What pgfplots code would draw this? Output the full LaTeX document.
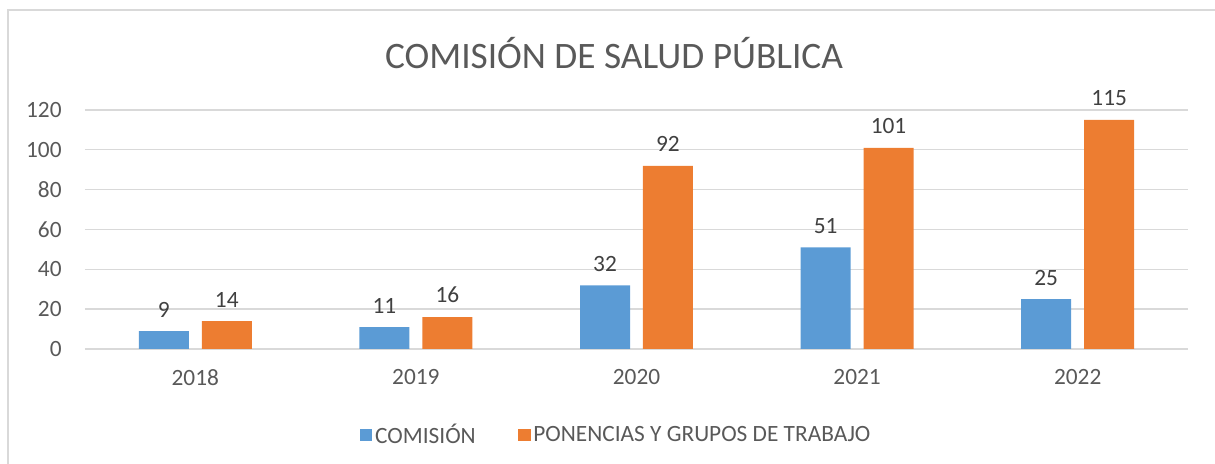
\documentclass[border=0pt]{standalone}
\usepackage{pgfplots}
\pgfplotsset{compat=1.18}
\usepackage{fontspec}
\setmainfont{Carlito}
\definecolor{cblue}{HTML}{5B9BD5}
\definecolor{corange}{HTML}{ED7D31}
\definecolor{cgrid}{HTML}{D9D9D9}
\definecolor{ctext}{HTML}{595959}
\definecolor{clab}{HTML}{404040}
\begin{document}
\begin{tikzpicture}
\useasboundingbox (0pt,0pt) rectangle (911.25pt,348pt);
\draw[cgrid, line width=1.5pt] (6pt,0pt) -- (6pt,340.5pt) -- (911.25pt,340.5pt);
\node[font=\fontsize{28}{34}\selectfont, text=ctext] at (460.5pt,308.5pt) {COMISIÓN DE SALUD PÚBLICA};
\begin{axis}[
  at={(63.75pt,86.25pt)}, anchor=south west,
  scale only axis, width=827.25pt, height=179.25pt,
  xmin=-0.5, xmax=4.5, ymin=0, ymax=120,
  ybar, bar width=37.5pt,
  xtick={0,1,2,3,4}, xticklabels={2018,2019,2020,2021,2022},
  ytick={0,20,40,60,80,100,120},
  ymajorgrids, grid style={cgrid, line width=1pt},
  axis line style={draw=none}, major tick length=0pt,
  tick label style={font=\fontsize{17.5}{21}\selectfont, text=ctext},
  /pgf/number format/assume math mode=true,
  yticklabel style={xshift=-14pt},
  xticklabel style={yshift=-12pt},
  nodes near coords,
  every node near coord/.append style={font=\fontsize{17.5}{21}\selectfont, text=clab, yshift=7pt},
  legend style={at={(0.482,-0.36)}, anchor=center, draw=none, fill=none,
    legend columns=2, font=\fontsize{17.5}{21}\selectfont, text=ctext,
    /tikz/every even column/.append style={column sep=30pt}},
  legend image code/.code={\fill[#1,draw=none] (-3pt,-4.3pt) rectangle (6.2pt,4.9pt);},
]
\addplot[fill=cblue, draw=none, bar shift=-23.6pt] coordinates {(0,9) (1,11) (2,32) (3,51) (4,25)};
\addplot[fill=corange, draw=none, bar shift=23.6pt] coordinates {(0,14) (1,16) (2,92) (3,101) (4,115)};
\legend{COMISIÓN, PONENCIAS Y GRUPOS DE TRABAJO}
\end{axis}
\end{tikzpicture}
\end{document}
